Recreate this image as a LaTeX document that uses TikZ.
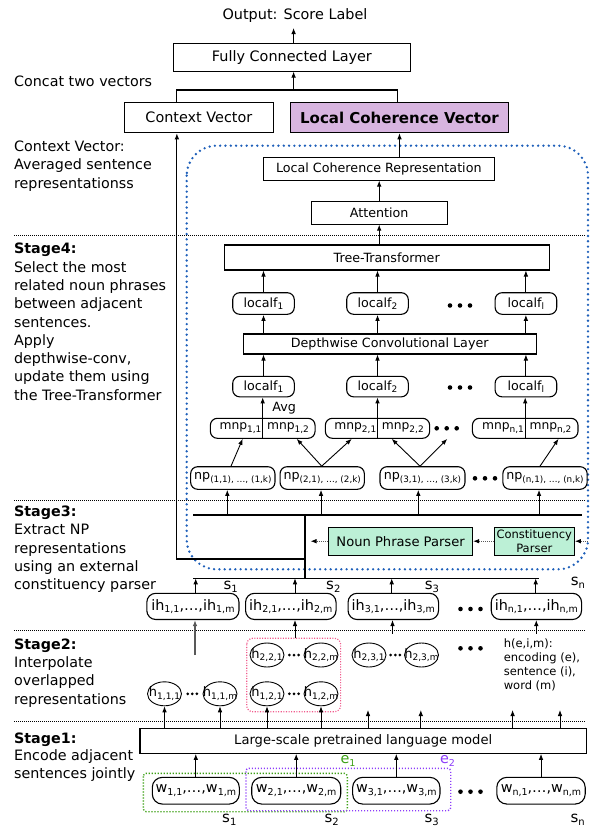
\documentclass[tikz,border=0pt]{standalone}
\usepackage{fontspec}
\setmainfont{DejaVu Sans}
\usetikzlibrary{arrows.meta,shapes.geometric}
\newcommand{\sbs}[2][9.5]{\raisebox{-2.6pt}{\fontsize{#1}{#1}\selectfont #2}}
\newcommand{\fsz}[2]{\fontsize{#1}{#2}\selectfont}
\newcommand{\bigdots}[2]{\fill ({#1-10},#2) circle (2.3) (#1,#2) circle (2.3) ({#1+10},#2) circle (2.3);}
\newcommand{\smalldots}[2]{\fill ({#1-4.6},#2) circle (1.5) (#1,#2) circle (1.5) ({#1+4.6},#2) circle (1.5);}
\definecolor{lcvpurple}{RGB}{216,181,224}
\definecolor{mint}{RGB}{188,240,214}
\definecolor{dotblue}{RGB}{30,95,185}
\definecolor{pinkdot}{RGB}{240,90,140}
\definecolor{egreen}{RGB}{60,160,20}
\definecolor{eviolet}{RGB}{140,60,250}
\begin{document}
\begin{tikzpicture}[x=1pt,y=-1pt,
 box/.style={draw, line width=1.1pt, inner sep=0pt, align=center},
 rbox/.style={box, rounded corners=7pt},
 arr/.style={-{Latex[length=6pt,width=4.6pt]}, line width=0.9pt},
 darr/.style={-{Latex[length=6pt,width=4.6pt,color=black]}, line width=0.9pt, dash pattern=on 1pt off 1pt, black!65},
 sepline/.style={line width=0.8pt, dash pattern=on 0.8pt off 1.2pt},
 ell/.style={draw, ellipse, line width=0.9pt, inner sep=0pt, minimum width=34pt, minimum height=24pt, font=\fsz{13}{15}},
 fA/.style={font=\fsz{14.4}{17}},
 fB/.style={font=\fsz{12.7}{15}},
 sidetext/.style={anchor=north west, align=left, inner sep=0pt, font=\fsz{14.3}{18.3}},
]
\useasboundingbox (0,0) rectangle (590,830);

% blue dotted region
\draw[dotblue, line width=2.6pt, line cap=round, dash pattern=on 0pt off 5.3pt, rounded corners=30pt] (186.7,145.7) rectangle (588,569.3);

% separators
\draw[sepline] (14,235) -- (585,235);
\draw[sepline] (14,500) -- (585,500);
\draw[sepline] (14,630) -- (585,630);
\draw[sepline] (14,721) -- (585,721);

% left texts
\node[anchor=west, inner sep=0pt, font=\fsz{14.3}{18.3}] (concat) at (13.9,81) {Concat two vectors};
\node[sidetext] (ctxnote) at (13.9,140.7) {Context Vector:\\Averaged sentence\\representationss};
\node[sidetext] (st4) at (13.9,243) {\textbf{Stage4:}\\Select the most\\related noun phrases\\between adjacent\\sentences.\\Apply\\depthwise-conv,\\update them using\\the Tree-Transformer};
\node[sidetext] (st3) at (13.9,505.7) {\textbf{Stage3:}\\Extract NP\\representations\\using an external\\constituency parser};
\node[sidetext] (st2) at (13.9,638.3) {\textbf{Stage2:}\\Interpolate\\overlapped\\representations};
\node[sidetext, font=\fsz{14.3}{17.6}] (st1) at (13.9,732.3) {\textbf{Stage1:}\\Encode adjacent\\sentences jointly};

% top
\node[fA, inner sep=0pt] (out) at (295,15.5) {Output: Score Label};
\node[box, fA, minimum width=236.7pt, minimum height=27.7pt] (FC) at (291.9,57.2) {Fully Connected Layer};
\node[box, fA, minimum width=149.4pt, minimum height=30.4pt] (CV) at (198.9,117.5) {Context Vector};
\node[box, fill=lcvpurple, font=\fsz{15}{18}\bfseries, minimum width=217.2pt, minimum height=30.4pt] (LCV) at (399.5,117.5) {Local Coherence Vector};
\coordinate (outarr) at (293.6,28);
\coordinate (catL) at (176.9,90);
\coordinate (catR) at (397.8,90);
\draw[arr] (outarr |- FC.north) -- (outarr);
\draw[line width=1.1pt] (CV.north -| catL) -- (catL) -- (catR) -- (LCV.north -| catR);
\draw[arr] (catL -| outarr) -- (outarr |- FC.south);

% stage 4
\node[box, fB, minimum width=231pt, minimum height=22.7pt] (LCR) at (378.8,168.7) {Local Coherence Representation};
\node[box, fB, minimum width=136.3pt, minimum height=22.3pt] (Att) at (379.2,212.9) {Attention};
\node[box, fB, minimum width=325.3pt, minimum height=25pt] (TT) at (386.7,257.5) {Tree-Transformer};
\draw[arr] (LCR.north -| LCV.south) -- (LCV.south);
\draw[arr] (Att.north) -- (Att.north |- LCR.south);
\draw[arr] (TT.north -| Att.south) -- (Att.south);

\node[rbox, fB, minimum width=61.6pt, minimum height=21.6pt] (lfa1) at (263.5,303.5) {localf\sbs[9]{1}};
\node[rbox, fB, minimum width=61.6pt, minimum height=21.6pt] (lfa2) at (377.5,303.5) {localf\sbs[9]{2}};
\node[rbox, fB, minimum width=61.6pt, minimum height=21.6pt] (lfa3) at (525.9,303.5) {localf\sbs[9]{l}};
\bigdots{460}{305.5}
\node[box, fB, minimum width=292.7pt, minimum height=20pt] (DCL) at (389.7,344) {Depthwise Convolutional Layer};
\foreach \n in {lfa1,lfa2,lfa3}{
  \draw[arr] (\n.north) -- (\n.north |- TT.south);
  \draw[arr] (\n.south |- DCL.north) -- (\n.south);
}
\node[rbox, fB, minimum width=61.6pt, minimum height=20.5pt] (lfb1) at (263.5,386.6) {localf\sbs[9]{1}};
\node[rbox, fB, minimum width=61.6pt, minimum height=20.5pt] (lfb2) at (377.5,386.6) {localf\sbs[9]{2}};
\node[rbox, fB, minimum width=61.6pt, minimum height=20.5pt] (lfb3) at (525.9,386.6) {localf\sbs[9]{l}};
\bigdots{460}{387.5}
\foreach \n in {lfb1,lfb2,lfb3}{
  \draw[arr] (\n.north) -- (\n.north |- DCL.south);
}
\node[fB, inner sep=0pt] (avg) at (284.2,407.7) {Avg};

% mnp
\node[rbox, minimum width=104.7pt, minimum height=20pt] (mnp1) at (262.7,428.3) {};
\node[rbox, minimum width=104.3pt, minimum height=20pt] (mnp2) at (377.5,428.3) {};
\node[rbox, minimum width=105.6pt, minimum height=20pt] (mnp3) at (525.2,428.3) {};
\node[font=\fsz{12.3}{14}, inner sep=0pt] (m1a) at ([xshift=-22.2pt]mnp1.center) {mnp\sbs[9]{1,1}};
\node[font=\fsz{12.3}{14}, inner sep=0pt] (m1b) at ([xshift=25.3pt]mnp1.center) {mnp\sbs[9]{1,2}};
\node[font=\fsz{12.3}{14}, inner sep=0pt] (m2a) at ([xshift=-22.2pt]mnp2.center) {mnp\sbs[9]{2,1}};
\node[font=\fsz{12.3}{14}, inner sep=0pt] (m2b) at ([xshift=25.3pt]mnp2.center) {mnp\sbs[9]{2,2}};
\node[font=\fsz{12.3}{14}, inner sep=0pt] (m3a) at ([xshift=-22.2pt]mnp3.center) {mnp\sbs[9]{n,1}};
\node[font=\fsz{12.3}{14}, inner sep=0pt] (m3b) at ([xshift=25.3pt]mnp3.center) {mnp\sbs[9]{n,2}};
\draw[arr] (mnp1.south) -- (lfb1.south -| mnp1.south);
\draw[arr] (mnp2.south) -- (lfb2.south -| mnp2.south);
\draw[arr] (mnp3.south) -- (lfb3.south -| mnp3.south);
\bigdots{446.7}{428.3}

% np
\node[rbox, minimum width=84.3pt, minimum height=22.6pt, font=\fsz{12.7}{15}] (np1) at (232.8,478) {np\sbs[8.8]{(1,1), …, (1,k)}};
\node[rbox, minimum width=84.3pt, minimum height=22.6pt, font=\fsz{12.7}{15}] (np2) at (322.2,478) {np\sbs[8.8]{(2,1), …, (2,k)}};
\node[rbox, minimum width=85pt, minimum height=22.6pt, font=\fsz{12.7}{15}] (np3) at (422.5,478) {np\sbs[8.8]{(3,1), …, (3,k)}};
\node[rbox, minimum width=84.3pt, minimum height=22.6pt, font=\fsz{12.7}{15}] (np4) at (545,478) {np\sbs[8.8]{(n,1), …, (n,k)}};
\bigdots{485}{478.3}
\draw[arr] ([xshift=-1.8pt]np1.north) -- ([xshift=-20pt]mnp1.south);
\draw[arr] ([xshift=-0.5pt]np2.north) -- ([xshift=34pt]mnp1.south);
\draw[arr] ([xshift=-0.5pt]np2.north) -- ([xshift=-25.8pt]mnp2.south);
\draw[arr] ([xshift=-2.5pt]np3.north) -- ([xshift=14.2pt]mnp2.south);
\draw[arr] ([xshift=-2.5pt]np3.north) -- ([xshift=69.8pt]mnp2.south);
\draw[arr] ([xshift=-5pt]np4.north) -- ([xshift=33.3pt]mnp3.south);

% stage 3
\coordinate (u1) at (193.3,515);
\coordinate (u2) at (582.3,515);
\coordinate (vt) at (305,515);
\coordinate (vb) at (305,578.3);
\coordinate (l1) at (193.3,578.3);
\coordinate (l2) at (539,578.3);
\coordinate (Lc) at (176.9,559);
\draw[line width=1.1pt] (u1) -- (u2);
\draw[line width=1.1pt] (l1) -- (l2);
\draw[line width=1.9pt] (vt) -- (vb);
\draw[arr, line width=1.1pt] (vt |- Lc) -- (Lc) -- (CV.south -| Lc);
\coordinate (a1) at (227.3,515);
\coordinate (a2) at (321,515);
\coordinate (a3) at (418.3,515);
\coordinate (a4) at (539,515);
\draw[arr] (a1) -- (a1 |- np1.south);
\draw[arr] (a2) -- (a2 |- np2.south);
\draw[arr] (a3) -- (a3 |- np3.south);
\draw[arr] (a4) -- (a4 |- np4.south);

\node[box, fill=mint, font=\fsz{13.1}{15}, minimum width=144.1pt, minimum height=27.7pt] (NPP) at (400.6,541.2) {Noun Phrase Parser};
\node[box, fill=mint, font=\fsz{11.5}{13.7}, minimum width=80pt, minimum height=27.7pt] (CP) at (534.3,541.2) {Constituency\\Parser};
\coordinate (cpin) at (588,541.2);
\coordinate (nppout) at (310.5,541.2);
\draw[darr] (cpin) -- (CP.east);
\draw[darr] (CP.west) -- (NPP.east);
\draw[darr] (NPP.west) -- (nppout);

% ih row
\node[box, rounded corners=9pt, fA, minimum width=92.2pt, minimum height=26.2pt] (ih1) at (192.9,606.4) {ih\sbs{1,1},…,ih\sbs{1,m}};
\node[box, rounded corners=9pt, fA, minimum width=90.5pt, minimum height=26.2pt] (ih2) at (290.8,606.4) {ih\sbs{2,1},…,ih\sbs{2,m}};
\node[box, rounded corners=9pt, fA, minimum width=90.5pt, minimum height=26.2pt] (ih3) at (393.3,606.4) {ih\sbs{3,1},…,ih\sbs{3,m}};
\node[box, rounded corners=9pt, fA, minimum width=90.3pt, minimum height=26.2pt] (ih4) at (536.4,606.4) {ih\sbs{n,1},…,ih\sbs{n,m}};
\bigdots{470.5}{609}
\coordinate (b1) at (195.7,578.3);
\coordinate (b2) at (295,578.3);
\coordinate (b3) at (391.7,578.3);
\coordinate (b4) at (535.7,578.3);
\draw[arr] (b1 |- ih1.north) -- (b1);
\draw[arr] (b2 |- ih2.north) -- (b2);
\draw[arr] (b3 |- ih3.north) -- (b3);
\draw[arr] (b4 |- ih4.north) -- (b4);
\node[font=\fsz{15}{17}, inner sep=0pt] (s1t) at (230.7,587) {s\sbs[10]{1}};
\node[font=\fsz{15}{17}, inner sep=0pt] (s2t) at (333.3,587) {s\sbs[10]{2}};
\node[font=\fsz{15}{17}, inner sep=0pt] (s3t) at (432,587) {s\sbs[10]{3}};
\node[font=\fsz{15}{17}, inner sep=0pt] (s4t) at (578,583) {s\sbs[10]{n}};

% stage 2
\draw[pinkdot, line width=1.2pt, dash pattern=on 1.1pt off 1.5pt, rounded corners=6pt] (246.7,638.3) rectangle (340.6,711.7);
\node[ell] (h221) at (267,655) {\makebox[0pt]{h\sbs[9]{2,2,1}}};
\node[ell] (h22m) at (321,655) {\makebox[0pt]{h\sbs[9]{2,2,m}}};
\node[ell] (h231) at (369,655) {\makebox[0pt]{h\sbs[9]{2,3,1}}};
\node[ell] (h23m) at (421.5,655) {\makebox[0pt]{h\sbs[9]{2,3,m}}};
\node[ell] (h111) at (164.5,693.8) {\makebox[0pt]{h\sbs[9]{1,1,1}}};
\node[ell] (h11m) at (220,693.8) {\makebox[0pt]{h\sbs[9]{1,1,m}}};
\node[ell] (h121) at (267,693.8) {\makebox[0pt]{h\sbs[9]{1,2,1}}};
\node[ell] (h12m) at (321,693.8) {\makebox[0pt]{h\sbs[9]{1,2,m}}};
\smalldots{192.3}{693.8}
\smalldots{294}{693.8}
\smalldots{294}{655}
\smalldots{395.3}{655}
\bigdots{470.5}{648.3}
\node[anchor=north west, align=left, inner sep=0pt, font=\fsz{11.5}{13.7}] (legend) at (503.6,639) {h(e,i,m):\\encoding (e),\\sentence (i),\\word (m)};

\coordinate (c1) at (195,655);
\coordinate (c2) at (295,638.3);
\coordinate (c3) at (392.5,633.5);
\coordinate (c4) at (536.3,633.5);
\draw[arr, black!65, line width=1.2pt] (c1) -- (c1 |- ih1.south);
\draw[arr] (c2) -- (c2 |- ih2.south);
\draw[arr] (c3) -- (c3 |- ih3.south);
\draw[arr] (c4) -- (c4 |- ih4.south);

% stage 1
\node[box, font=\fsz{13.1}{15}, minimum width=446.4pt, minimum height=25pt] (LM) at (363.2,740.8) {Large-scale pretrained language model};
\foreach \n in {h111,h11m,h121,h12m}{
  \draw[arr] (\n.south |- LM.north) -- (\n.south);
}
\coordinate (g1) at (368,710);
\coordinate (g2) at (420.8,710);
\coordinate (g3) at (512.6,710);
\coordinate (g4) at (560,710);
\foreach \n in {g1,g2,g3,g4}{
  \draw[arr] (\n |- LM.north) -- (\n);
}

\draw[egreen, line width=1.4pt, dash pattern=on 1.2pt off 1.8pt, rounded corners=3pt] (143.3,773.3) rectangle (347.3,811.7);
\draw[eviolet, line width=1.4pt, dash pattern=on 1.2pt off 1.8pt, rounded corners=3pt] (246,768.3) rectangle (450.7,810.7);
\node[text=egreen, font=\fsz{14.4}{17}, inner sep=0pt] (e1) at (348,760.7) {e\sbs{1}};
\node[text=eviolet, font=\fsz{14.4}{17}, inner sep=0pt] (e2) at (447.5,760.7) {e\sbs{2}};

\node[box, rounded corners=10pt, fA, minimum width=87pt, minimum height=26.7pt] (w1) at (195.8,790.7) {w\sbs{1,1},…,w\sbs{1,m}};
\node[box, rounded corners=10pt, fA, minimum width=89pt, minimum height=26.7pt] (w2) at (296.2,790.7) {w\sbs{2,1},…,w\sbs{2,m}};
\node[box, rounded corners=10pt, fA, minimum width=87.3pt, minimum height=26.7pt] (w3) at (396.3,790.7) {w\sbs{3,1},…,w\sbs{3,m}};
\node[box, rounded corners=10pt, fA, minimum width=88.4pt, minimum height=26.7pt] (w4) at (541,790.7) {w\sbs{n,1},…,w\sbs{n,m}};
\bigdots{470.5}{791.7}
\foreach \n in {w1,w2,w3,w4}{
  \draw[arr] (\n.north) -- (\n.north |- LM.south);
}
\node[font=\fsz{15}{17}, inner sep=0pt] (s1b) at (229.3,820) {s\sbs[10]{1}};
\node[font=\fsz{15}{17}, inner sep=0pt] (s2b) at (331.7,820) {s\sbs[10]{2}};
\node[font=\fsz{15}{17}, inner sep=0pt] (s3b) at (431.7,820) {s\sbs[10]{3}};
\node[font=\fsz{15}{17}, inner sep=0pt] (s4b) at (577.7,820) {s\sbs[10]{n}};
\end{tikzpicture}
\end{document}
